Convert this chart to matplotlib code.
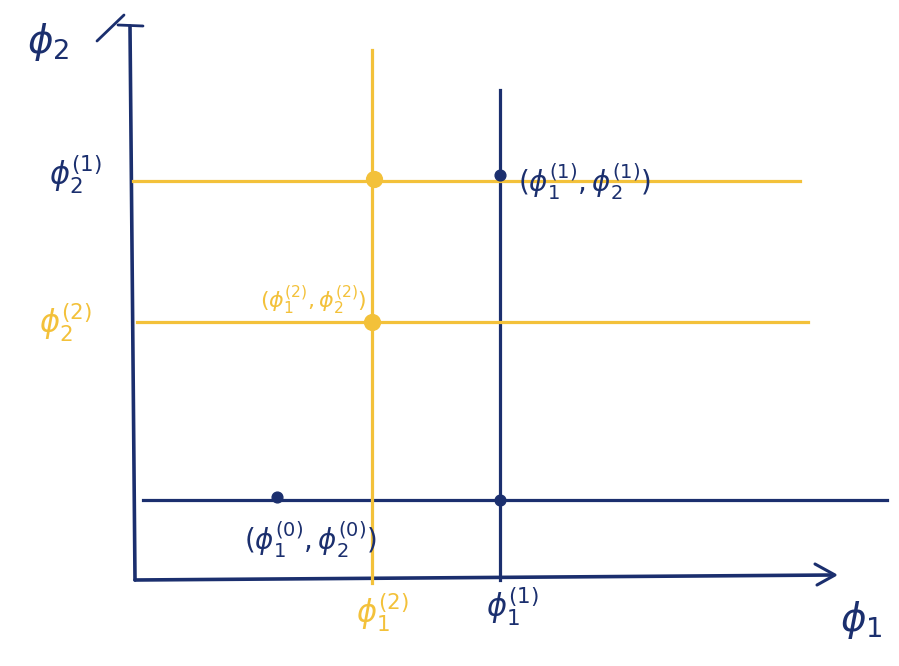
import matplotlib
matplotlib.use("Agg")
import matplotlib.pyplot as plt

navy = "#1b2f6e"
gold = "#f3c13a"

# sample values (phi1, phi2) for Gibbs steps 0, 1, 2
phi1_vals = [1.44, 3.67, 2.39]
phi2_vals = [0.82, 4.02, 2.58]

# guide lines: (position, start, end)
blue_hlines = [(0.80, 0.10, 7.54)]
blue_vlines = [(3.67, 0.00, 4.90)]
gold_hlines = [(3.99, 0.00, 6.67), (2.58, 0.04, 6.75)]
gold_vlines = [(2.39, -0.03, 5.30)]

# points on the grid
blue_pts_x = [1.44, 3.67, 3.67]
blue_pts_y = [0.83, 0.80, 4.05]
gold_pts_x = [2.41, 2.39]
gold_pts_y = [4.01, 2.58]

fig = plt.figure(figsize=(8.99, 6.66), dpi=100)
ax = fig.add_axes([0, 0, 1, 1])
ax.set_xlim(-1.33, 7.66)
ax.set_ylim(-0.86, 5.80)
ax.axis("off")

lw = 2.3
# axes of the sketch
ax.plot([-0.03, 0.02], [5.54, 0.0], color=navy, lw=2.6, solid_capstyle="round")
ax.plot([0.02, 7.0], [0.0, 0.05], color=navy, lw=2.6, solid_capstyle="round")
# hand drawn arrow heads
ax.plot([-0.36, -0.09], [5.39, 5.65], color=navy, lw=2.0, solid_capstyle="round")
ax.plot([-0.15, 0.10], [5.55, 5.54], color=navy, lw=2.0, solid_capstyle="round")
ax.plot([6.82, 7.02, 6.84], [0.16, 0.05, -0.05], color=navy, lw=2.2,
        solid_capstyle="round", solid_joinstyle="round")

for y, x0, x1 in blue_hlines:
    ax.plot([x0, x1], [y, y], color=navy, lw=lw)
for x, y0, y1 in blue_vlines:
    ax.plot([x, x], [y0, y1], color=navy, lw=lw)
for y, x0, x1 in gold_hlines:
    ax.plot([x0, x1], [y, y], color=gold, lw=lw)
for x, y0, y1 in gold_vlines:
    ax.plot([x, x], [y0, y1], color=gold, lw=lw)

ax.scatter(blue_pts_x, blue_pts_y, s=60, color=navy, zorder=3)
ax.scatter(gold_pts_x, gold_pts_y, s=130, color=gold, zorder=3)

# axis names
ax.text(-0.85, 5.38, r"$\phi_2$", color=navy, fontsize=28, ha="center", va="center")
ax.text(7.28, -0.40, r"$\phi_1$", color=navy, fontsize=28, ha="center", va="center")

# tick-like labels
ax.text(-0.58, 4.05, r"$\phi_2^{(1)}$", color=navy, fontsize=22, ha="center", va="center")
ax.text(-0.68, 2.57, r"$\phi_2^{(2)}$", color=gold, fontsize=22, ha="center", va="center")
ax.text(phi1_vals[2] + 0.10, -0.33, r"$\phi_1^{(2)}$", color=gold, fontsize=22,
        ha="center", va="center")
ax.text(phi1_vals[1] + 0.12, -0.27, r"$\phi_1^{(1)}$", color=navy, fontsize=22,
        ha="center", va="center")

# point labels
ax.text(phi1_vals[0] + 0.33, 0.40, r"$(\phi_1^{(0)},\phi_2^{(0)})$", color=navy,
        fontsize=20, ha="center", va="center")
ax.text(phi1_vals[1] + 0.18, 3.98, r"$(\phi_1^{(1)},\phi_2^{(1)})$", color=navy,
        fontsize=20, ha="left", va="center")
ax.text(phi1_vals[2] - 0.05, 2.80, r"$(\phi_1^{(2)},\phi_2^{(2)})$", color=gold,
        fontsize=16, ha="right", va="center")

fig.savefig("out.png", dpi=100)
